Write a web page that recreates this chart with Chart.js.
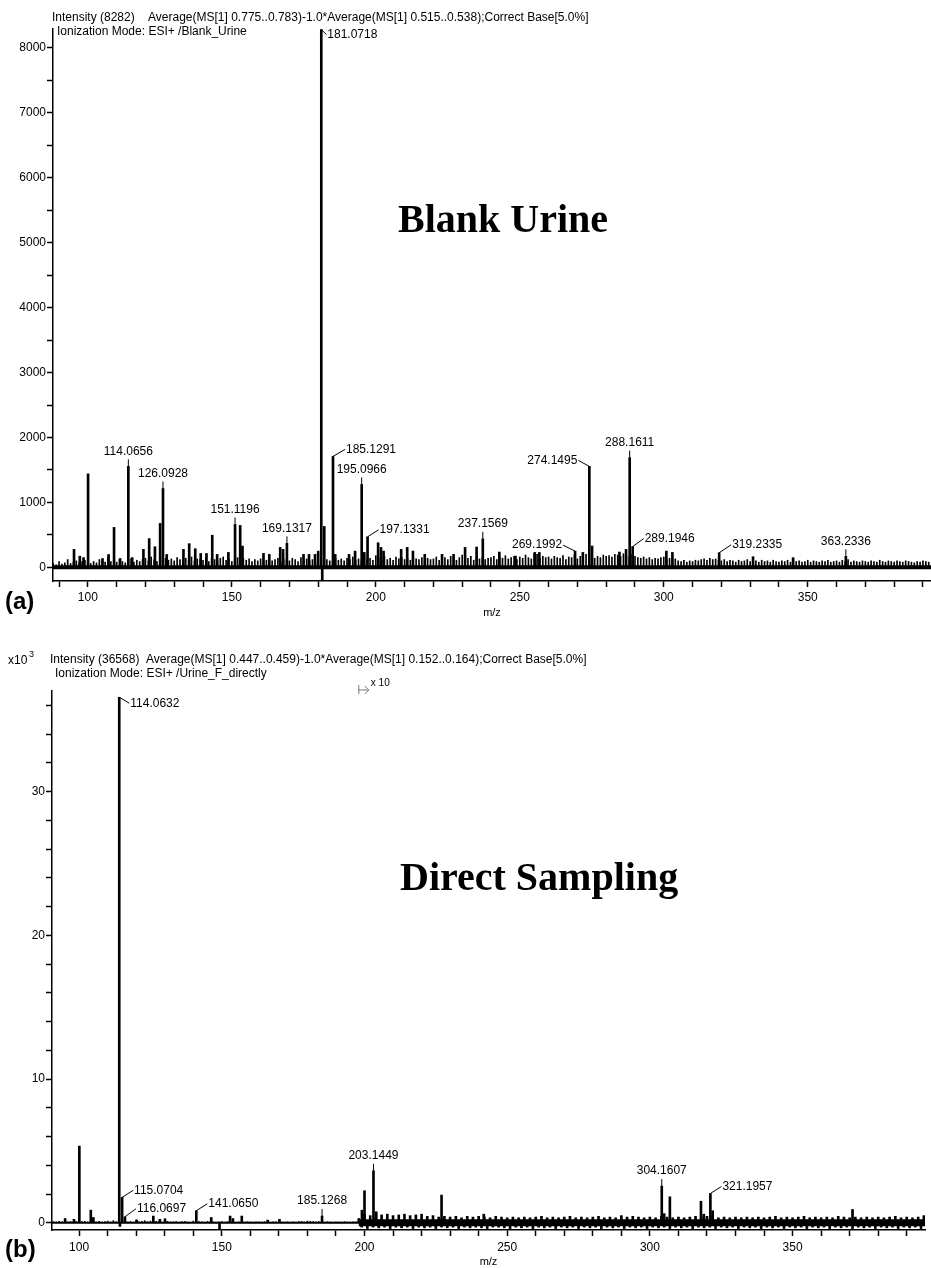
<!DOCTYPE html>
<html>
<head>
<meta charset="utf-8">
<script src="https://cdn.jsdelivr.net/npm/chart.js@4.4.0/dist/chart.umd.min.js"></script>
<style>
  body { margin: 0; background: #fff; }
  #wrap { position: relative; width: 931px; height: 1268px; }
  canvas { position: absolute; left: 0; }
  #chartA { top: 0; }
  #chartB { top: 634px; }
</style>
</head>
<body>
<div id="wrap">
  <canvas id="chartA" width="931" height="634"></canvas>
  <canvas id="chartB" width="931" height="634"></canvas>
</div>
<script>
// ---- (a) Blank urine ----
const rangeA = [87.9, 392.8];
const yRangeA = [-210, 8290];
const peakMzA = [95.2, 97.2, 98.5, 100.08, 105.1, 107.2, 109.1, 111.2, 114.0656, 115.4,
  119.3, 121.3, 123.3, 125.1, 126.0928, 127.4, 133.2, 135.2, 137.3, 139.2,
  141.2, 143.2, 144.9, 148.8, 151.1196, 152.9, 153.7, 161.0, 163.0, 166.8,
  167.8, 169.1317, 174.9, 176.8, 178.9, 180.0, 181.0718, 181.4, 182.1, 185.1291,
  185.9, 190.7, 192.8, 195.0966, 196.0, 197.1331, 200.8, 201.8, 202.7, 208.8,
  210.9, 212.9, 217.0, 223.0, 227.0, 231.0, 235.0, 237.1569, 242.9, 248.5,
  255.2, 256.8, 269.1992, 271.9, 274.1495, 275.1, 284.6, 286.9, 288.1611, 289.1946,
  300.9, 303.0, 319.2335, 331.0, 344.9, 363.2336];
const peakIntA = [277, 172, 150, 1440, 136, 198, 615, 136, 1555, 150,
  277, 443, 318, 677, 1215, 198, 277, 365, 287, 214,
  214, 495, 200, 230, 661, 646, 328, 215, 200, 307,
  277, 370, 200, 200, 200, 250, 8282, -190, 630, 1708,
  200, 200, 251, 1277, 230, 470, 379, 307, 251, 277,
  307, 251, 200, 200, 200, 307, 313, 440, 236, 174,
  230, 230, 250, 230, 1555, 328, 236, 277, 1690, 320,
  251, 230, 225, 164, 149, 170];
const noiseStartA = 88;
const noiseA = [60, 40, 90, 50, 70, 120, 60, 80, 100, 70, 90, 110,
  80, 60, 90, 70, 120, 100, 80, 150, 90, 110, 80, 120, 90, 70, 100, 130, 80, 110, 90, 120,
  140, 100, 160, 120, 90, 110, 170, 140, 110, 130, 100, 150, 120, 90, 140, 110, 160, 100, 130, 120,
  110, 150, 90, 130, 120, 100, 140, 160, 110, 130, 90, 120, 150, 100, 140, 110, 130, 90, 120, 100,
  130, 90, 110, 150, 100, 120, 140, 90, 130, 110, 100, 140, 120, 90, 150, 110, 130, 100, 120, 90,
  140, 110, 130, 120, 100, 90, 150, 110, 130, 100, 140, 120, 160, 110, 130, 100, 150, 120, 140, 110,
  180, 150, 130, 170, 120, 140, 110, 160, 130, 150, 120, 140, 110, 170, 130, 120, 150, 110, 140, 120,
  130, 160, 110, 140, 150, 120, 170, 130, 110, 150, 190, 120, 140, 170, 110, 160, 130, 150, 120, 140,
  150, 170, 120, 160, 140, 180, 130, 150, 170, 120, 160, 140, 190, 150, 130, 210, 200, 140, 170, 150,
  160, 130, 170, 150, 140, 180, 120, 160, 150, 190, 130, 170, 150, 200, 180, 160, 140, 170, 150, 190,
  170, 180, 160, 200, 190, 170, 210, 180, 160, 200, 170, 150, 140, 160, 130, 150, 120, 140, 130, 150,
  160, 120, 140, 110, 130, 100, 90, 110, 80, 100, 90, 110, 100, 120, 130, 110, 140, 120, 130, 110,
  100, 120, 90, 110, 100, 80, 110, 90, 100, 120, 90, 110, 100, 80, 110, 90, 100, 80, 110, 90,
  80, 100, 90, 110, 80, 120, 90, 100, 80, 90, 110, 80, 100, 90, 80, 100, 90, 110, 80, 90,
  100, 80, 110, 90, 120, 80, 100, 90, 80, 100, 90, 80, 100, 90, 80, 110, 90, 80, 100, 90,
  80, 100, 90, 80, 100, 90, 80, 70, 90, 80, 100, 90, 80];
const labelMzA = [114.0656, 126.0928, 151.1196, 169.1317, 181.0718, 185.1291, 195.0966, 197.1331,
  237.1569, 269.1992, 274.1495, 288.1611, 289.1946, 319.2335, 363.2336];

// ---- (b) Direct sampling (x10^3) ----
const rangeB = [90.5, 396.4];
const yRangeB = [-0.5, 37.0];
const peakMzB = [95.1, 98.2, 100.08, 104.1, 105.0, 114.0632, 114.3, 115.0704, 116.0697, 120.2,
  126.0, 128.3, 130.1, 141.065, 146.3, 149.2, 152.9, 153.9, 157.0, 166.1,
  170.2, 185.1268, 199.1, 200.0, 203.1449, 204.1, 227.0, 241.8, 304.1607, 305.0,
  307.0, 317.9, 318.9, 321.1957, 322.0, 371.0];
const peakIntB = [0.3, 0.24, 5.34, 0.88, 0.37, 36.568, -0.25, 1.77, 0.42, 0.19,
  0.47, 0.24, 0.28, 0.84, 0.37, -0.45, 0.47, 0.3, 0.47, 0.19,
  0.24, 0.47, 0.88, 2.23, 3.62, 0.77, 1.93, 0.6, 2.55, 0.64,
  1.81, 1.5, 0.6, 2.04, 0.84, 0.93];
const baseStartB = 91;
const baseB = [0.08, 0.05, 0.1, 0.06, 0.12, 0.07, 0.09, 0.05, 0.1, 0.06,
  0.08, 0.1, 0.05, 0.07, 0.09, 0.06, 0.1, 0.05, 0.08, 0.12, 0.06, 0.15, 0.07, 0.1, 0.08, 0.12, 0.06, 0.09, 0.05, 0.2,
  0.07, 0.1, 0.15, 0.08, 0.12, 0.06, 0.1, 0.09, 0.05, 0.08, 0.1, 0.06, 0.07, 0.09, 0.05, 0.08, 0.1, 0.06, 0.05, 0.12,
  0.06, 0.09, 0.07, 0.05, 0.1, 0.08, 0.06, 0.05, 0.07, 0.09, 0.05, 0.08, 0.1, 0.06, 0.05, 0.07, 0.06, 0.05, 0.08, 0.06,
  0.05, 0.07, 0.06, 0.05, 0.08, 0.06, 0.05, 0.07, 0.06, 0.05, 0.06, 0.05, 0.07, 0.05, 0.06, 0.05, 0.08, 0.1, 0.06, 0.12,
  0.1, 0.08, 0.06, 0.09, 0.07, 0.05, 0.08, 0.06, 0.05, 0.07, 0.06, 0.05, 0.08, 0.06, 0.05, 0.07, 0.06];
const zoomStartB = 198; // x 10 region starts here
const noiseB = [0.3, -0.3, 0.6, -0.4, 0.5, -0.3, 0.6, -0.35, 0.55, -0.3, 0.6, -0.4, 0.5, -0.3, 0.55, -0.35, 0.6, -0.3, 0.5, -0.4,
  0.55, -0.3, 0.6, -0.35, 0.45, -0.3, 0.5, -0.4, 0.4, -0.3, 0.45, -0.35, 0.4, -0.3, 0.45, -0.4, 0.35, -0.3, 0.45, -0.35,
  0.4, -0.3, 0.45, -0.35, 0.4, -0.4, 0.35, -0.3, 0.45, -0.3, 0.4, -0.35, 0.35, -0.4, 0.4, -0.3, 0.35, -0.35, 0.4, -0.3,
  0.35, -0.4, 0.4, -0.3, 0.45, -0.35, 0.35, -0.3, 0.4, -0.4, 0.35, -0.3, 0.4, -0.35, 0.45, -0.3, 0.35, -0.4, 0.4, -0.3,
  0.35, -0.35, 0.4, -0.3, 0.45, -0.4, 0.35, -0.3, 0.4, -0.35, 0.35, -0.3, 0.5, -0.4, 0.4, -0.3, 0.45, -0.35, 0.4, -0.3,
  0.35, -0.4, 0.4, -0.3, 0.35, -0.35, 0.45, -0.3, 0.4, -0.4, 0.35, -0.3, 0.4, -0.35, 0.35, -0.3, 0.4, -0.4, 0.45, -0.3,
  0.4, -0.35, 0.45, -0.3, 0.5, -0.4, 0.35, -0.3, 0.4, -0.35, 0.35, -0.3, 0.4, -0.4, 0.35, -0.3, 0.4, -0.35, 0.35, -0.3,
  0.4, -0.4, 0.35, -0.3, 0.4, -0.35, 0.45, -0.3, 0.35, -0.4, 0.4, -0.3, 0.35, -0.35, 0.4, -0.3, 0.45, -0.4, 0.35, -0.3,
  0.4, -0.35, 0.35, -0.3, 0.4, -0.4, 0.35, -0.3, 0.45, -0.35, 0.4, -0.3, 0.35, -0.4, 0.4, -0.3, 0.35, -0.35, 0.4, -0.3,
  0.35, -0.4, 0.4, -0.3, 0.35, -0.35, 0.4, -0.3, 0.45, -0.4, 0.35, -0.3, 0.4, -0.35, 0.35, -0.3, 0.4, -0.4, 0.5];
const labelMzB = [114.0632, 115.0704, 116.0697, 141.065, 185.1268, 203.1449, 304.1607, 321.1957];

// label leader placement (pixels), kept apart from the data
const UP = { dx: 0, dy: -7, align: 'center' };
const placeA = [UP, UP, UP, UP, { dx: 5, dy: 5, align: 'left' }, { dx: 12, dy: -7, align: 'left' }, UP,
  { dx: 11, dy: -7, align: 'left' }, UP, { dx: -12, dy: -6, align: 'right' }, { dx: -11, dy: -6, align: 'right' },
  UP, { dx: 11, dy: -8, align: 'left' }, { dx: 12, dy: -8, align: 'left' }, UP];
const placeB = [{ dx: 10, dy: 6, align: 'left' }, { dx: 11, dy: -7, align: 'left' }, { dx: 11, dy: -8, align: 'left' },
  { dx: 11, dy: -7, align: 'left' }, UP, UP, UP, { dx: 11, dy: -7, align: 'left' }];

const SANS = '"Liberation Sans", Arial, sans-serif';
const SERIF = '"Liberation Serif", "Times New Roman", serif';
Chart.defaults.font.family = SANS;
Chart.defaults.color = '#000';

const pts = (xs, ys) => xs.map((x, i) => ({ x: x, y: ys[i] }));
const seq = (start, ys, step) => ys.map((y, i) => ({ x: start + i * step, y: y }));

function drawPeakLabels(chart, mzs, ints, labels, place) {
  const { ctx, scales: { x, y } } = chart;
  ctx.save();
  ctx.font = '12px ' + SANS;
  ctx.fillStyle = '#000';
  ctx.strokeStyle = '#000';
  ctx.lineWidth = 1;
  ctx.textBaseline = 'middle';
  labels.forEach((mz, i) => {
    const h = ints[mzs.indexOf(mz)];
    const px = x.getPixelForValue(mz);
    const py = Math.max(y.getPixelForValue(h), chart.chartArea.top);
    const p = place[i];
    const ex = px + p.dx, ey = py + p.dy;
    ctx.beginPath();
    ctx.moveTo(px, py);
    ctx.lineTo(ex, ey);
    ctx.stroke();
    const text = mz.toFixed(4);
    if (p.align === 'center') {
      ctx.textAlign = 'center';
      ctx.fillText(text, ex, ey - 8);
    } else if (p.align === 'left') {
      ctx.textAlign = 'left';
      ctx.fillText(text, ex + 1, ey);
    } else {
      ctx.textAlign = 'right';
      ctx.fillText(text, ex - 1, ey);
    }
  });
  ctx.restore();
}

// ticks on every multiple of the step inside the range
function stepTicks(step) {
  return s => {
    const t = [];
    for (let k = Math.ceil(s.min / step); k * step <= s.max + 1e-9; k++) {
      t.push({ value: Math.round(k * step * 1000) / 1000 });
    }
    s.ticks = t;
  };
}

function axisOpts(min, max, step, labelEvery, pad, fit) {
  return {
    type: 'linear',
    min: min,
    max: max,
    offset: false,
    grid: { drawOnChartArea: false, drawTicks: true, tickLength: 6, tickColor: '#000', tickWidth: 1.5, offset: false },
    border: { display: true, color: '#000', width: 1.5 },
    ticks: {
      autoSkip: false, maxRotation: 0,
      padding: pad, color: '#000', font: { size: 12 },
      callback: v => (Math.abs(v % labelEvery) < 1e-9 ? String(v) : '')
    },
    afterBuildTicks: stepTicks(step),
    afterFit: fit
  };
}

function makeChart(id, cfg) {
  const line = (data, w, order) => ({ type: 'line', data: data, borderColor: '#000', borderWidth: w, pointRadius: 0, tension: 0, order: order });
  return new Chart(document.getElementById(id), {
    type: 'bar',
    data: {
      datasets: [
        line(cfg.baseline, cfg.baseWidth, 5),
        line(cfg.bandLine, 7, 4),
        { data: cfg.noise, backgroundColor: '#000', barThickness: 1, grouped: false, order: 3 },
        { data: cfg.band, backgroundColor: '#000', barThickness: 2, grouped: false, order: 2 },
        { data: cfg.peaks, backgroundColor: '#000', barThickness: 2, grouped: false, order: 1 }
      ]
    },
    options: {
      responsive: false,
      animation: false,
      events: [],
      layout: { padding: cfg.padding },
      plugins: { legend: { display: false }, tooltip: { enabled: false } },
      scales: {
        x: axisOpts(cfg.xr[0], cfg.xr[1], 10, 50, cfg.xPad, s => { s.height = cfg.xHeight; }),
        y: axisOpts(cfg.yr[0], cfg.yr[1], cfg.yStep, cfg.yLabelEvery, 1, s => { s.width = cfg.yWidth; })
      }
    },
    plugins: [{ id: 'decor', afterDraw: cfg.decor }]
  });
}

makeChart('chartA', {
  xr: rangeA, yr: yRangeA, yStep: 500, yLabelEvery: 1000,
  baseline: [{ x: rangeA[0], y: 0 }, { x: rangeA[1], y: 0 }], baseWidth: 4,
  bandLine: [],
  noise: seq(noiseStartA, noiseA, 1),
  band: [],
  peaks: pts(peakMzA, peakIntA),
  padding: { left: 0, right: 0, top: 29, bottom: 13 },
  xHeight: 40, xPad: 3, yWidth: 53,
  decor: chart => {
    const ctx = chart.ctx, ca = chart.chartArea;
    drawPeakLabels(chart, peakMzA, peakIntA, labelMzA, placeA);
    ctx.save();
    ctx.fillStyle = '#000';
    ctx.textBaseline = 'middle';
    ctx.textAlign = 'left';
    ctx.font = '12px ' + SANS;
    ctx.fillText('Intensity (8282)    Average(MS[1] 0.775..0.783)-1.0*Average(MS[1] 0.515..0.538);Correct Base[5.0%]', 52, 18, 550);
    ctx.fillText('Ionization Mode: ESI+ /Blank_Urine', 57, 32);
    ctx.font = '11px ' + SANS;
    ctx.textAlign = 'center';
    ctx.fillText('m/z', (ca.left + ca.right) / 2, 613);
    ctx.textAlign = 'left';
    ctx.font = 'bold 24px ' + SANS;
    ctx.fillText('(a)', 5, 602);
    ctx.font = 'bold 40px ' + SERIF;
    ctx.fillText('Blank Urine', 398, 222);
    ctx.restore();
  }
});

makeChart('chartB', {
  xr: rangeB, yr: yRangeB, yStep: 2, yLabelEvery: 10,
  baseline: [{ x: rangeB[0], y: 0 }, { x: rangeB[1], y: 0 }], baseWidth: 2,
  bandLine: [{ x: zoomStartB, y: 0 }, { x: rangeB[1], y: 0 }],
  noise: seq(baseStartB, baseB, 1),
  band: seq(zoomStartB, noiseB, 1),
  peaks: pts(peakMzB, peakIntB),
  padding: { left: 0, right: 6, top: 57, bottom: 0 },
  xHeight: 38, xPad: 4, yWidth: 52,
  decor: chart => {
    const ctx = chart.ctx, ca = chart.chartArea;
    drawPeakLabels(chart, peakMzB, peakIntB, labelMzB, placeB);
    ctx.save();
    ctx.fillStyle = '#000';
    ctx.textBaseline = 'middle';
    ctx.textAlign = 'left';
    ctx.font = '12px ' + SANS;
    ctx.fillText('x10', 8, 27);
    ctx.font = '9px ' + SANS;
    ctx.fillText('3', 29, 21);
    ctx.font = '12px ' + SANS;
    ctx.fillText('Intensity (36568)  Average(MS[1] 0.447..0.459)-1.0*Average(MS[1] 0.152..0.164);Correct Base[5.0%]', 50, 26, 552);
    ctx.fillText('Ionization Mode: ESI+ /Urine_F_directly', 55, 40);
    // x 10 magnification marker
    const mx = chart.scales.x.getPixelForValue(zoomStartB);
    ctx.strokeStyle = '#777';
    ctx.lineWidth = 1;
    ctx.beginPath();
    ctx.moveTo(mx, 51); ctx.lineTo(mx, 60);
    ctx.moveTo(mx, 56); ctx.lineTo(mx + 10, 56);
    ctx.moveTo(mx + 6, 52); ctx.lineTo(mx + 10, 56); ctx.lineTo(mx + 6, 60);
    ctx.stroke();
    ctx.font = '10px ' + SANS;
    ctx.fillText('x 10', mx + 12, 49);
    ctx.font = '11px ' + SANS;
    ctx.textAlign = 'center';
    ctx.fillText('m/z', (ca.left + ca.right) / 2, 628);
    ctx.textAlign = 'left';
    ctx.font = 'bold 24px ' + SANS;
    ctx.fillText('(b)', 5, 616);
    ctx.font = 'bold 40px ' + SERIF;
    ctx.fillText('Direct Sampling', 400, 246);
    ctx.restore();
  }
});
</script>
</body>
</html>
